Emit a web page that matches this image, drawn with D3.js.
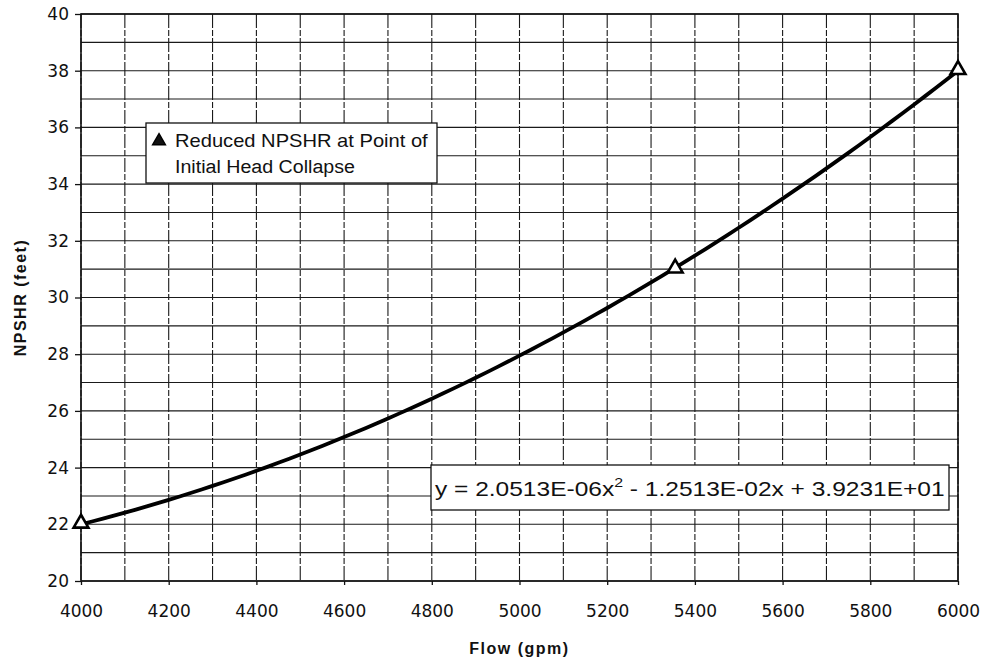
<!DOCTYPE html>
<html>
<head>
<meta charset="utf-8">
<script src="https://cdn.jsdelivr.net/npm/d3@7"></script>
<style>
  body { margin: 0; background: #fff; }
  svg { display: block; }
  .tick-label { font-family: "DejaVu Sans", sans-serif; font-size: 17px; fill: #111; }
  .title { font-family: "Liberation Sans", Arial, sans-serif; font-size: 16px; font-weight: bold; letter-spacing: 1.5px; fill: #111; }
  .note { font-family: "Liberation Sans", Arial, sans-serif; fill: #111; }
</style>
</head>
<body>
<svg id="chart" width="988" height="667"></svg>
<script>
// measured points (flow gpm, NPSHR ft)
const flows = [4000, 5355, 6000];
const npshr = [22, 31, 38];
// polynomial trendline coefficients, as printed on the chart (a x^2 + b x + c)
const trendCoef = [2.0513e-06, -1.2513e-02, 3.9231e+01];
const xTicks = [4000, 4200, 4400, 4600, 4800, 5000, 5200, 5400, 5600, 5800, 6000];
const yTicks = [20, 22, 24, 26, 28, 30, 32, 34, 36, 38, 40];
const legendLines = ["Reduced NPSHR at Point of", "Initial Head Collapse"];

const svg = d3.select('#chart');
const margin = { top: 14, right: 30, bottom: 86, left: 81 };
const width = +svg.attr('width') - margin.left - margin.right;
const height = +svg.attr('height') - margin.top - margin.bottom;

const x = d3.scaleLinear().domain([4000, 6000]).range([0, width]);
const y = d3.scaleLinear().domain([20, 40]).range([height, 0]);

const g = svg.append('g').attr('transform', `translate(${margin.left},${margin.top})`);

// grid: vertical every 100 gpm (broken look), horizontal every 1 ft
g.append('g')
    .selectAll('line')
    .data(d3.range(4000, 6001, 100))
    .join('line')
    .attr('x1', d => x(d)).attr('x2', d => x(d))
    .attr('y1', 0).attr('y2', height)
    .attr('stroke', '#1a1a1a')
    .attr('stroke-width', 1.1)
    .attr('stroke-dasharray', '14,2,6,2');

g.append('g')
    .selectAll('line')
    .data(d3.range(20, 41, 1))
    .join('line')
    .attr('x1', 0).attr('x2', width)
    .attr('y1', d => y(d)).attr('y2', d => y(d))
    .attr('stroke', '#1a1a1a')
    .attr('stroke-width', 1.1);

// axes
const yAxis = g.append('g')
    .call(d3.axisLeft(y).tickValues(yTicks).tickSize(6).tickPadding(6).tickFormat(d3.format('d')));
yAxis.select('.domain').remove();
yAxis.selectAll('line').attr('stroke', '#111').attr('stroke-width', 1.3);
yAxis.selectAll('text').attr('class', 'tick-label');

const xAxis = g.append('g')
    .attr('transform', `translate(0,${height})`)
    .call(d3.axisBottom(x).tickValues(xTicks).tickSize(4).tickPadding(20).tickFormat(d3.format('d')));
xAxis.select('.domain').remove();
xAxis.selectAll('line').attr('stroke', '#111').attr('stroke-width', 1.3);
xAxis.selectAll('text').attr('class', 'tick-label');

// plot border
g.append('rect')
    .attr('width', width).attr('height', height)
    .attr('fill', 'none')
    .attr('stroke', '#111')
    .attr('stroke-width', 1.6);

// trendline from the printed polynomial
const trend = d3.range(4000, 6001, 25).map(v => [v, trendCoef[0] * v * v + trendCoef[1] * v + trendCoef[2]]);
g.append('path')
    .datum(trend)
    .attr('fill', 'none')
    .attr('stroke', '#000')
    .attr('stroke-width', 3.8)
    .attr('d', d3.line().x(d => x(d[0])).y(d => y(d[1])));

// triangle markers
const tri = d3.symbol().type(d3.symbolTriangle).size(95);
g.append('g')
    .selectAll('path')
    .data(flows.map((f, i) => [f, npshr[i]]))
    .join('path')
    .attr('transform', d => `translate(${x(d[0])},${y(d[1]) - 1})`)
    .attr('d', tri)
    .attr('fill', '#fff')
    .attr('stroke', '#000')
    .attr('stroke-width', 2.6);

// axis titles
svg.append('text')
    .attr('class', 'title')
    .attr('x', margin.left + x(5000))
    .attr('y', 654)
    .attr('text-anchor', 'middle')
    .text('Flow (gpm)');

svg.append('text')
    .attr('class', 'title')
    .attr('transform', `translate(26,${margin.top + height / 2}) rotate(-90)`)
    .attr('text-anchor', 'middle')
    .text('NPSHR (feet)');

// stretch a text node horizontally to a target width (scan is slightly wide)
function fitWidth(sel, left, target) {
    const w = sel.node().getComputedTextLength();
    const k = target / w;
    sel.attr('transform', `translate(${left},0) scale(${k},1) translate(${-left},0)`);
}

// legend box
const leg = svg.append('g');
leg.append('rect')
    .attr('x', 146).attr('y', 123).attr('width', 291).attr('height', 60)
    .attr('fill', '#fff').attr('stroke', '#111').attr('stroke-width', 1.3);
leg.append('path')
    .attr('transform', 'translate(159,141)')
    .attr('d', d3.symbol().type(d3.symbolTriangle).size(70))
    .attr('fill', '#111').attr('stroke', '#000').attr('stroke-width', 1.5);
leg.selectAll('text.note')
    .data(legendLines)
    .join('text')
    .attr('class', 'note')
    .attr('x', 175)
    .attr('y', (d, i) => 147 + i * 26)
    .attr('font-size', 18)
    .text(d => d)
    .each(function (d, i) { fitWidth(d3.select(this), 175, i === 0 ? 253 : 180); });

// equation box
const eq = svg.append('g');
eq.append('rect')
    .attr('x', 431).attr('y', 465).attr('width', 518).attr('height', 45)
    .attr('fill', '#fff').attr('stroke', '#111').attr('stroke-width', 1.3);
const eqText = eq.append('text')
    .attr('class', 'note')
    .attr('x', 435)
    .attr('y', 496)
    .attr('font-size', 20);
eqText.append('tspan').text('y = 2.0513E-06x');
eqText.append('tspan').attr('dy', -9).attr('font-size', 13).text('2');
eqText.append('tspan').attr('dy', 9).text(' - 1.2513E-02x + 3.9231E+01');
fitWidth(eqText, 435, 510);
</script>
</body>
</html>
